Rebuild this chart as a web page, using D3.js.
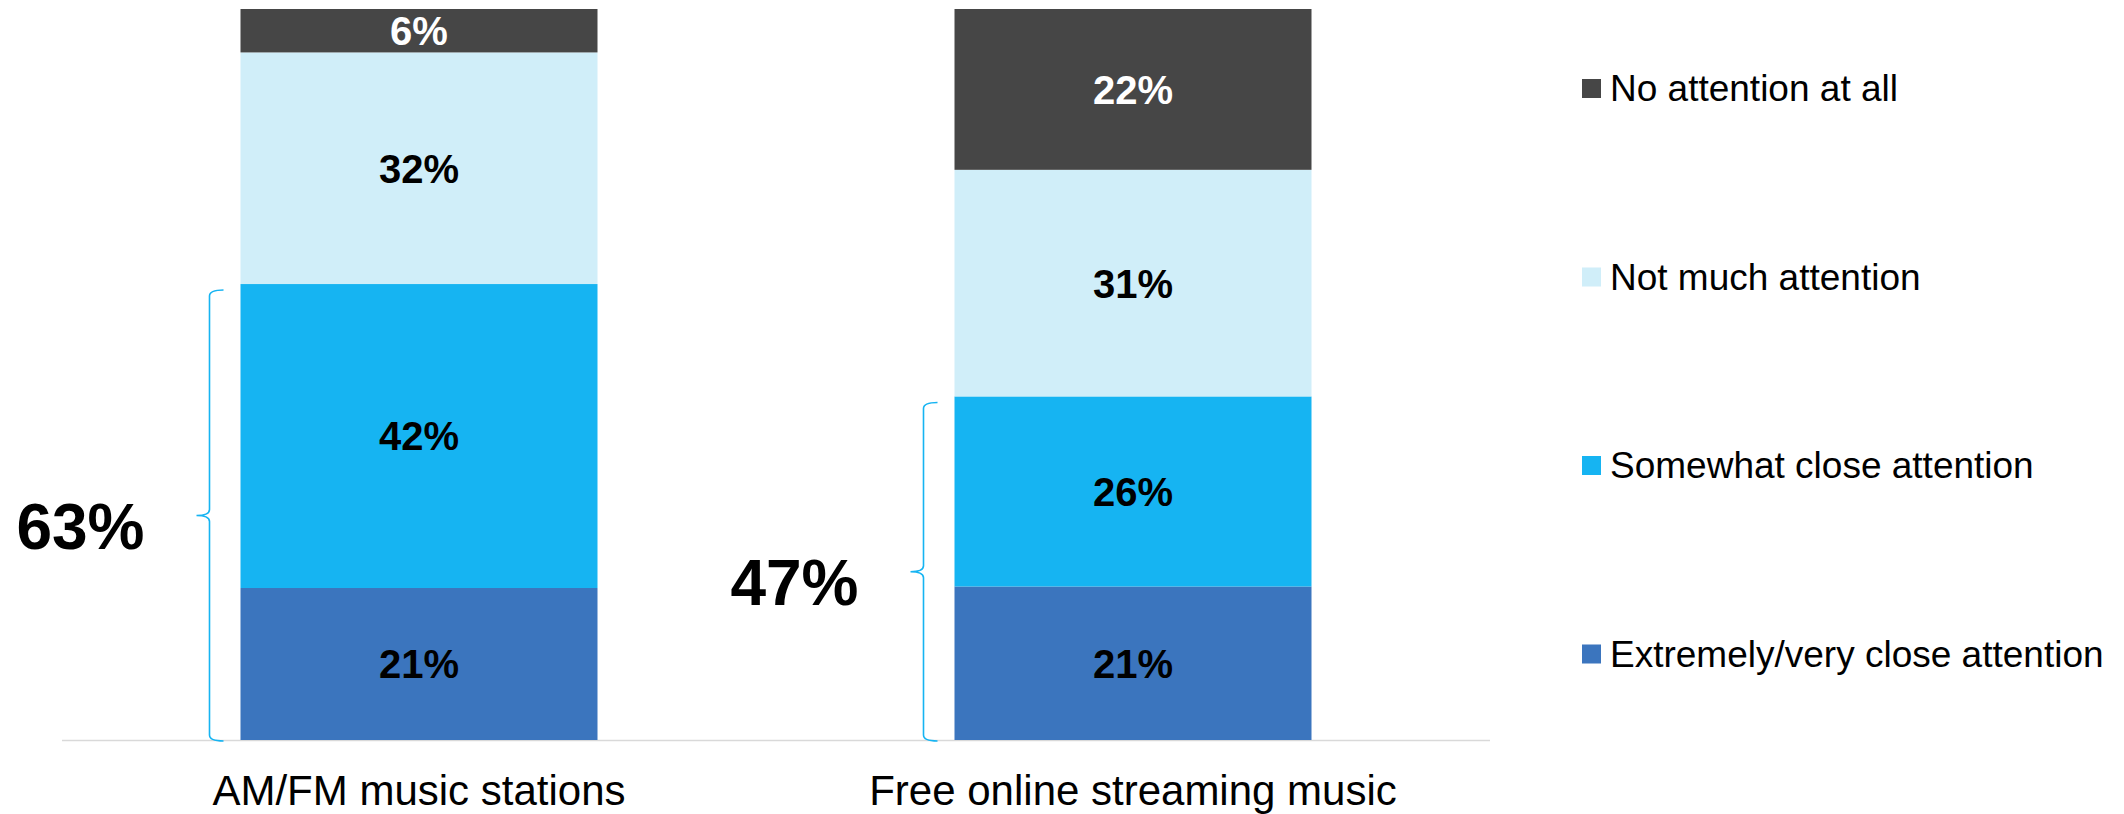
<!DOCTYPE html>
<html>
<head>
<meta charset="utf-8">
<script src="https://cdn.jsdelivr.net/npm/d3@7"></script>
<style>
  html, body { margin: 0; padding: 0; background: #ffffff; }
  svg { display: block; font-family: "Liberation Sans", Arial, Helvetica, sans-serif; }
</style>
</head>
<body>
<svg id="chart" width="2124" height="814"></svg>
<script>
// Attention paid to music sources (percent of listeners)
const categories = ["AM/FM music stations", "Free online streaming music"];
const seriesNames = [
  "Extremely/very close attention",
  "Somewhat close attention",
  "Not much attention",
  "No attention at all"
];

// Series values, one entry per category (bottom of the stack first)
const extremelyVeryClose = [21, 21];
const somewhatClose = [42, 26];
const notMuch = [32, 31];
const noAttention = [6, 22];
// Combined "close attention" totals shown beside each bar
const closeTotals = [63, 47];

const colors = ["#3b75be", "#16b4f2", "#d0eef9", "#464646"];
const labelColors = ["#000000", "#000000", "#000000", "#ffffff"];

const svg = d3.select("#chart");

const rows = categories.map((c, i) => ({
  category: c,
  [seriesNames[0]]: extremelyVeryClose[i],
  [seriesNames[1]]: somewhatClose[i],
  [seriesNames[2]]: notMuch[i],
  [seriesNames[3]]: noAttention[i]
}));

const stacked = d3.stack()
  .keys(seriesNames)
  .offset(d3.stackOffsetExpand)(rows);

const x = d3.scaleBand()
  .domain(categories)
  .range([62, 1490])
  .paddingInner(0.5)
  .paddingOuter(0.25);

const y = d3.scaleLinear().domain([0, 1]).range([740, 9]);

// Baseline
svg.append("line")
  .attr("x1", 62).attr("x2", 1490)
  .attr("y1", y(0) + 0.5).attr("y2", y(0) + 0.5)
  .attr("stroke", "#d9d9d9").attr("stroke-width", 1.5);

// Stacked segments
const layers = svg.append("g").selectAll("g")
  .data(stacked)
  .join("g")
  .attr("fill", (d, i) => colors[i]);

layers.selectAll("rect")
  .data(d => d)
  .join("rect")
  .attr("x", d => x(d.data.category))
  .attr("width", x.bandwidth())
  .attr("y", d => y(d[1]))
  .attr("height", d => y(d[0]) - y(d[1]));

// Segment value labels
stacked.forEach((layer, li) => {
  svg.append("g").selectAll("text")
    .data(layer)
    .join("text")
    .attr("x", d => x(d.data.category) + x.bandwidth() / 2)
    .attr("y", d => (y(d[0]) + y(d[1])) / 2)
    .attr("dy", "0.36em")
    .attr("text-anchor", "middle")
    .attr("font-size", 40)
    .attr("font-weight", "bold")
    .attr("fill", labelColors[li])
    .text(d => d.data[layer.key] + "%");
});

// Category axis labels
svg.append("g").selectAll("text")
  .data(categories)
  .join("text")
  .attr("x", d => x(d) + x.bandwidth() / 2)
  .attr("y", 805)
  .attr("text-anchor", "middle")
  .attr("font-size", 42)
  .attr("fill", "#000000")
  .text(d => d);

// Curly braces grouping the two "close attention" segments
const braceGap = 31, hook = 14, tip = 13, r = 6;
categories.forEach((c, i) => {
  const top = y(stacked[1][i][1]) + 6;
  const bottom = y(0) + 1;
  const bx = x(c) - braceGap;
  const mid = (top + bottom) / 2;
  const path = d3.path();
  path.moveTo(bx + hook, top);
  path.quadraticCurveTo(bx, top, bx, top + r);
  path.lineTo(bx, mid - r);
  path.quadraticCurveTo(bx, mid, bx - tip, mid);
  path.quadraticCurveTo(bx, mid, bx, mid + r);
  path.lineTo(bx, bottom - r);
  path.quadraticCurveTo(bx, bottom, bx + hook, bottom);
  svg.append("path")
    .attr("d", path.toString())
    .attr("fill", "none")
    .attr("stroke", "#16b4f2")
    .attr("stroke-width", 1.6);

  svg.append("text")
    .attr("x", bx - 65)
    .attr("y", mid + 33)
    .attr("text-anchor", "end")
    .attr("font-size", 64)
    .attr("font-weight", "bold")
    .attr("fill", "#000000")
    .text(closeTotals[i] + "%");
});

// Legend, listed top to bottom in the same order as the stack
const legendNames = seriesNames.slice().reverse();
const legendColors = colors.slice().reverse();
const legendY = d3.scalePoint().domain(legendNames).range([88.5, 654]);
const legend = svg.append("g").selectAll("g")
  .data(legendNames)
  .join("g")
  .attr("transform", d => `translate(1582,${legendY(d)})`);

legend.append("rect")
  .attr("x", 0).attr("y", -9.5)
  .attr("width", 19).attr("height", 19)
  .attr("fill", (d, i) => legendColors[i]);

legend.append("text")
  .attr("x", 28)
  .attr("y", 0)
  .attr("dy", "0.35em")
  .attr("font-size", 37)
  .attr("fill", "#000000")
  .text(d => d);
</script>
</body>
</html>
